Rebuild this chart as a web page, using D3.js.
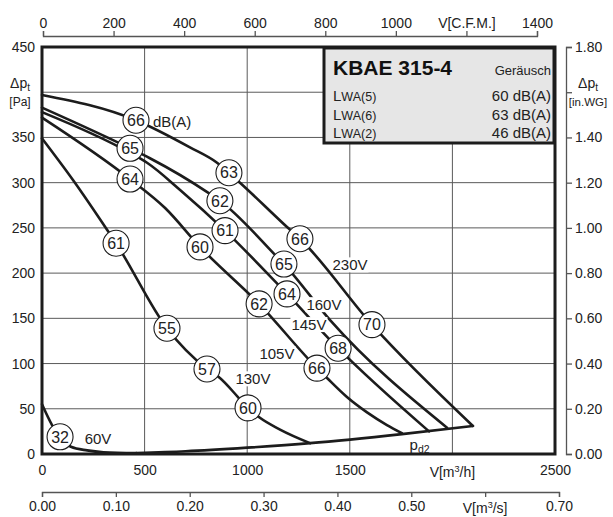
<!DOCTYPE html>
<html><head><meta charset="utf-8">
<script src="https://cdn.jsdelivr.net/npm/d3@7"></script>
<style>
body{margin:0;background:#fff;}
svg{display:block;font-family:"Liberation Sans",Arial,Helvetica,sans-serif;}
</style></head><body>
<svg id="c" width="613" height="517"></svg>
<script>
// ---------- data ----------
const flowTicks = [0, 500, 1000, 1500, 2000, 2500];           // m3/h
const flowGrid = [500, 1000, 1500, 2000];
const pressureTicks = [0, 50, 100, 150, 200, 250, 300, 350, 450]; // Pa
const pressureGrid = [50, 100, 150, 200, 250, 300, 350, 400];
const cfmTicks = [0, 200, 400, 600, 800, 1000, 1200, 1400];
const m3sTicks = [0, 0.1, 0.2, 0.3, 0.4, 0.5, 0.6, 0.7];
const inwgTicks = [0, 0.2, 0.4, 0.6, 0.8, 1.0, 1.2, 1.4, 1.6, 1.8];

// fan curves: [flow m3/h, pressure Pa]
const curve230V = [[0,397],[458,369],[721,339],[853,322],[911,311],[965,300],[1194,251],[1257,238],[1608,143],[2100,31]];
const curve160V = [[0,383],[429,338],[526,327],[809,289],[867,280],[1145,218],[1179,210],[1404,148],[1974,29]];
const curve145V = [[0,378],[429,333],[512,322],[673,292],[892,247],[1194,177],[1443,117],[1886,25]];
const curve105V = [[0,372],[429,304],[600,272],[770,229],[1058,166],[1340,95],[1389,84],[1486,63],[1584,46],[1681,32],[1754,23]];
const curve130V = [[0,349],[151,303],[317,248],[361,233],[609,139],[804,94],[867,84],[955,63],[1004,51],[1062,40],[1160,27],[1306,12]];
const curve60V  = [[0,55],[49,32],[88,19],[141,8],[220,4],[300,2],[460,1]];
const curvePd2  = [[460,1],[700,3],[1000,7],[1306,12],[1754,22],[2100,31]];

// sound level markers: [flow, pressure, dB(A)]
const soundMarks = [
  [458,369,66],[911,311,63],[1257,238,66],[1608,143,70],
  [429,338,65],[867,280,62],[1179,210,65],
  [892,247,61],[1194,177,64],[1443,117,68],
  [429,304,64],[770,229,60],[1058,166,62],[1340,95,66],
  [361,233,61],[609,139,55],[804,94,57],[1004,51,60],
  [88,19,32]
];
// curve labels: [flow, pressure, text]
const voltLabels = [[1501,209,"230V"],[1374,165,"160V"],[1301,143,"145V"],[1145,111,"105V"],[1028,83,"130V"],[273,17,"60V"]];

const legendTitle = "KBAE 315-4";
const legendHead = "Geräusch";
const legendRows = [["WA(5)","60 dB(A)"],["WA(6)","63 dB(A)"],["WA(2)","46 dB(A)"]];

// ---------- scales ----------
const svg = d3.select("#c");
const L = 42, R = 555, T = 47, B = 454;
const x = d3.scaleLinear().domain([0, 2500]).range([L, R]);
const y = d3.scaleLinear().domain([0, 450]).range([B, T]);
const xCfm = d3.scaleLinear().domain([0, 1400]).range([43, 537]);
const xM3s = d3.scaleLinear().domain([0, 0.7]).range([L, 559]);
const yIn = d3.scaleLinear().domain([0, 1.8]).range([B, T]);

const ink = "#1c1c1c", gridC = "#5a5a5a", axisC = "#555", txt = "#222";

svg.append("rect").attr("width",613).attr("height",517).attr("fill","#fff");

// grid
const g = svg.append("g");
g.selectAll(".vg").data(flowGrid).join("line")
  .attr("x1", d=>x(d)).attr("x2", d=>x(d)).attr("y1", T).attr("y2", B)
  .attr("stroke", gridC).attr("stroke-width", 1);
g.selectAll(".hg").data(pressureGrid).join("line")
  .attr("x1", L).attr("x2", R).attr("y1", d=>y(d)).attr("y2", d=>y(d))
  .attr("stroke", gridC).attr("stroke-width", 1);

// axes
function styleAxis(sel){
  sel.selectAll("path,line").attr("stroke", axisC).attr("stroke-width", 1.3);
  sel.selectAll("text").attr("fill", txt).attr("font-size", 14)
     .attr("font-family", '"Liberation Sans",Arial,sans-serif');
}
const ax1 = svg.append("g").attr("transform",`translate(${L},0)`)
  .call(d3.axisLeft(y).tickValues(pressureTicks).tickSize(0).tickPadding(7));
ax1.select(".domain").remove(); styleAxis(ax1);

const ax2 = svg.append("g").attr("transform",`translate(0,${B})`)
  .call(d3.axisBottom(x).tickValues(flowTicks).tickSize(0).tickPadding(11)
    .tickFormat(d => d === 2000 ? "" : d));
ax2.select(".domain").remove(); styleAxis(ax2);

const ax3 = svg.append("g").attr("transform",`translate(0,36)`)
  .call(d3.axisTop(xCfm).tickValues(cfmTicks).tickSize(5).tickPadding(3)
    .tickFormat(d => d === 1200 ? "V[C.F.M.]" : d));
styleAxis(ax3);

const ax4 = svg.append("g").attr("transform",`translate(0,492)`)
  .call(d3.axisBottom(xM3s).tickValues(m3sTicks).tickSize(5).tickPadding(4)
    .tickFormat(d => Math.abs(d-0.6)<1e-9 ? "" : d3.format(".2f")(d)));
styleAxis(ax4);

const ax5 = svg.append("g").attr("transform",`translate(566,0)`)
  .call(d3.axisRight(yIn).tickValues(inwgTicks).tickSize(6).tickPadding(3)
    .tickFormat(d => Math.abs(d-1.6)<1e-9 ? "" : d3.format(".2f")(d)));
styleAxis(ax5);

// superscript unit labels
function unitLabel(px, py, pre, sup, post, size){
  const t = svg.append("text").attr("x",px).attr("y",py).attr("text-anchor","middle")
    .attr("fill",txt).attr("font-size",size);
  t.append("tspan").text(pre);
  t.append("tspan").attr("font-size",size*0.65).attr("dy",-5).text(sup);
  t.append("tspan").attr("dy",5).text(post);
}
unitLabel(x(2000), 477, "V[m", "3", "/h]", 14);
unitLabel(xM3s(0.6), 513, "V[m", "3", "/s]", 14);

// Δp labels
function dpLabel(px, py, unit, usize){
  const t = svg.append("text").attr("x",px).attr("y",py).attr("text-anchor","middle")
    .attr("fill",txt).attr("font-size",14);
  t.append("tspan").text("Δp");
  t.append("tspan").attr("font-size",10).attr("dy",3).text("t");
  svg.append("text").attr("x",px).attr("y",py+18).attr("text-anchor","middle")
    .attr("fill",txt).attr("font-size",usize).text(unit);
}
dpLabel(20, 88, "[Pa]", 12);
dpLabel(588, 88, "[in.WG]", 11.5);

// curves
const line = d3.line().x(d=>x(d[0])).y(d=>y(d[1])).curve(d3.curveMonotoneX);
const cg = svg.append("g").attr("fill","none").attr("stroke",ink).attr("stroke-width",2.6)
  .attr("stroke-linejoin","round").attr("stroke-linecap","round");
[curve230V, curve160V, curve145V, curve105V, curve130V, curve60V, curvePd2].forEach(c=>{
  cg.append("path").attr("d", line(c));
});

// frame
svg.append("rect").attr("x",L).attr("y",T).attr("width",R-L).attr("height",B-T)
  .attr("fill","none").attr("stroke",ink).attr("stroke-width",3);

// volt labels with white background
const vl = svg.append("g");
voltLabels.forEach(d=>{
  const t = vl.append("text").attr("x",x(d[0])).attr("y",y(d[1])).attr("dy","0.36em")
    .attr("text-anchor","middle").attr("font-size",15).attr("fill",txt).text(d[2]);
  const bb = t.node().getBBox();
  vl.insert("rect","text").attr("x",bb.x-1).attr("y",bb.y+1).attr("width",bb.width+2)
    .attr("height",bb.height-2).attr("fill","#fff");
});
svg.append("text").attr("x",x(541)).attr("y",y(367)).attr("dy","0.36em")
  .attr("font-size",15).attr("fill",txt).text("dB(A)");
// pd2
const pd = svg.append("text").attr("x",x(1840)).attr("y",y(4)).attr("font-size",15).attr("fill",txt)
  .attr("text-anchor","middle");
pd.append("tspan").text("p");
pd.append("tspan").attr("font-size",10.5).attr("dy",3).text("d2");

// sound markers
const mg = svg.append("g");
mg.selectAll("circle").data(soundMarks).join("circle")
  .attr("cx", d=>x(d[0])).attr("cy", d=>y(d[1])).attr("r", 13)
  .attr("fill","#fff").attr("stroke",ink).attr("stroke-width",1.1);
mg.selectAll("text").data(soundMarks).join("text")
  .attr("x", d=>x(d[0])).attr("y", d=>y(d[1])).attr("dy","0.36em")
  .attr("text-anchor","middle").attr("font-size",16).attr("fill",txt).text(d=>d[2]);

// legend box
const lx0 = 324, ly0 = 48, lx1 = 554, ly1 = 143;
svg.append("rect").attr("x",lx0).attr("y",ly0).attr("width",lx1-lx0).attr("height",ly1-ly0)
  .attr("fill","#e6e6e6").attr("stroke",ink).attr("stroke-width",3);
svg.append("text").attr("x",333).attr("y",75).attr("font-size",21).attr("font-weight","bold")
  .attr("fill","#111").text(legendTitle);
svg.append("text").attr("x",551).attr("y",75).attr("text-anchor","end").attr("font-size",13)
  .attr("fill",txt).text(legendHead);
legendRows.forEach((r,i)=>{
  const yy = 101 + i*18.5;
  const t = svg.append("text").attr("x",333).attr("y",yy).attr("fill",txt).attr("font-size",15);
  t.append("tspan").text("L");
  t.append("tspan").attr("font-size",12.5).text(r[0]);
  svg.append("text").attr("x",551).attr("y",yy).attr("text-anchor","end").attr("font-size",15)
    .attr("fill",txt).text(r[1]);
});
</script>
</body></html>
